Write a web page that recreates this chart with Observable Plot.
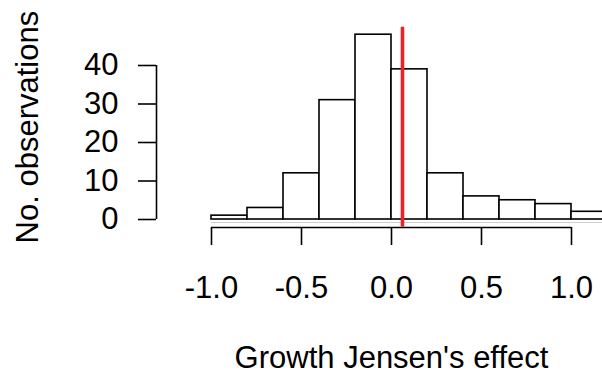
<!DOCTYPE html>
<html>
<head>
<meta charset="utf-8">
<script src="https://cdn.jsdelivr.net/npm/d3@7"></script>
<script src="https://cdn.jsdelivr.net/npm/@observablehq/plot@0.6"></script>
<style>
  html, body { margin: 0; padding: 0; background: #fff; overflow: hidden; }
  svg { display: block; }
</style>
</head>
<body>
<div id="chart"></div>
<script>
// Histogram bins (width 0.2) and counts
const binStarts = [-1.0, -0.8, -0.6, -0.4, -0.2, 0.0, 0.2, 0.4, 0.6, 0.8, 1.0];
const binWidth = 0.2;
const counts = [1, 3, 12, 31, 48, 39, 12, 6, 5, 4, 2];
const meanEffect = 0.061;          // red vertical line
const yLimits = [-1.92, 49.92];    // plot region extent (R style)
const xTicks = [-1.0, -0.5, 0.0, 0.5, 1.0];
const xTickLabels = ["-1.0", "-0.5", "0.0", "0.5", "1.0"];
const yTicks = [0, 10, 20, 30, 40];
const xTitle = "Growth Jensen's effect";
const yTitle = "No. observations";

const bins = binStarts.map((x0, i) => ({x1: x0, x2: x0 + binWidth, n: counts[i]}));

const chart = Plot.plot({
  width: 602,
  height: 377,
  marginLeft: 156,
  marginRight: 31,
  marginTop: 65,
  marginBottom: 150,
  style: {fontFamily: "'Liberation Sans', Arial, sans-serif", background: "#fff", overflow: "hidden"},
  x: {domain: [-1, 1], range: [211, 571]},
  y: {domain: [0, 40], range: [219, 65]},
  marks: [
    Plot.ruleY([0], {x1: -1, x2: 1.2, dy: 3, stroke: "#cfcfcf", strokeWidth: 1}),
    Plot.rectY(bins, {x1: "x1", x2: "x2", y: "n", fill: "white", stroke: "black", strokeWidth: 1.6}),
    Plot.ruleX([meanEffect], {y1: yLimits[0], y2: yLimits[1], stroke: "#e8232b", strokeWidth: 3.6}),
    // x axis
    Plot.ruleY([0], {x1: xTicks[0], x2: xTicks[xTicks.length - 1], dy: 8, stroke: "black", strokeWidth: 1.6}),
    Plot.axisX({ticks: xTicks, tickFormat: (d, i) => xTickLabels[i], tickSize: 18, tickPadding: 30,
      strokeWidth: 1.6, fontSize: 31, fill: "black", label: null}),
    // y axis
    Plot.ruleX([xTicks[0]], {y1: yTicks[0], y2: yTicks[yTicks.length - 1], dx: -55, stroke: "black", strokeWidth: 1.6}),
    Plot.axisY({ticks: yTicks, tickSize: 18, tickPadding: 20, strokeWidth: 1.6, fontSize: 31, fill: "black", label: null}),
    // titles
    Plot.text([xTitle], {x: 0, frameAnchor: "bottom", dy: 140, fontSize: 31, fill: "black", textAnchor: "middle"}),
    Plot.text([yTitle], {y: (yLimits[0] + yLimits[1]) / 2, frameAnchor: "left", dx: -128, rotate: -90,
      fontSize: 31, fill: "black", textAnchor: "middle"})
  ]
});
document.getElementById("chart").appendChild(chart);
</script>
</body>
</html>
